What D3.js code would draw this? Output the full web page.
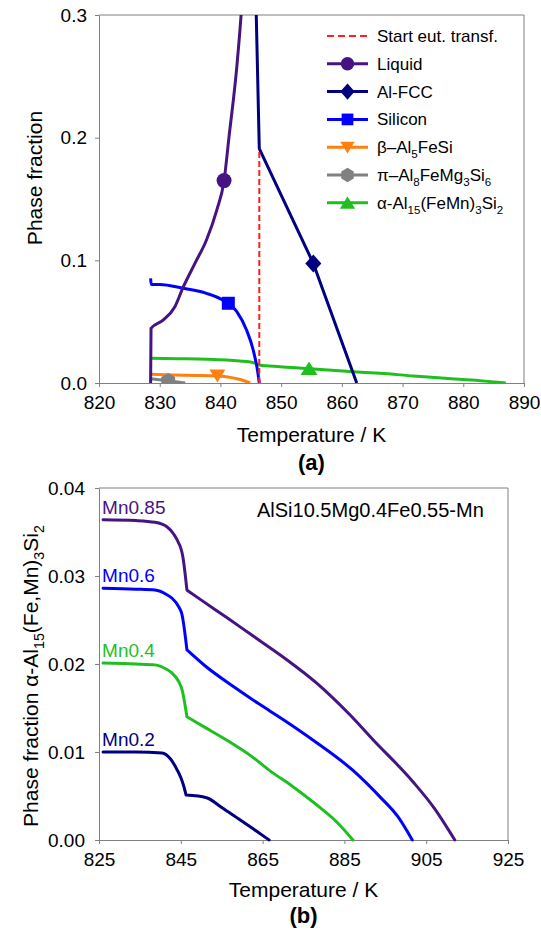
<!DOCTYPE html>
<html>
<head>
<meta charset="utf-8">
<script src="https://cdn.jsdelivr.net/npm/d3@7"></script>
<style>
body { margin: 0; background: #fff; }
svg { font-family: "Liberation Sans", Arial, sans-serif; }
</style>
</head>
<body>
<script>
// ---- data, panel (a): phase fractions vs temperature ----
var tempTicksA = [820, 830, 840, 850, 860, 870, 880, 890];
var fracTicksA = [0, 0.1, 0.2, 0.3];

var liquid = [[828.5, 0], [828.57, 0.0446], [830.6, 0.0514], [832.5, 0.0622], [833.9, 0.0785],
  [835.8, 0.0975], [837.7, 0.1166], [839.4, 0.141], [840.6, 0.165], [841.4, 0.2],
  [842.7, 0.258], [843.4, 0.3], [843.6, 0.315]];
var alFcc = [[845.85, 0.31], [845.9, 0.3], [846.4, 0.191], [855.3, 0.0975], [862.45, 0]];
var silicon = [[828.5, 0.0853], [828.6, 0.0803], [830, 0.0803], [833.9, 0.0772], [837.7, 0.0731],
  [840.5, 0.0672], [842.7, 0.0582], [844.3, 0.0432], [845.4, 0.0269], [846.1, 0.0106], [846.4, 0]];
var betaAl5FeSi = [[828.5, 0.0071], [832.2, 0.0066], [836, 0.0062], [839.4, 0.0057], [841.6, 0.0046],
  [842.7, 0.0034], [843.9, 0.0018], [844.9, 0]];
var piPhase = [[828.5, 0.0035], [831.4, 0.0018], [834.2, 0]];
var alphaPhase = [[828.5, 0.0201], [833, 0.0198], [837.7, 0.0194], [843.2, 0.0179], [845.4, 0.0166],
  [846.4, 0.0147], [849.8, 0.0133], [854.2, 0.0119], [861.9, 0.0092], [866.3, 0.0079],
  [871.8, 0.0057], [877, 0.0038], [882.8, 0.0019], [887, 0]];

// one marker per curve
var markerPoints = [[840.6, 0.165], [855.3, 0.0975], [841.3, 0.065], [839.5, 0.0061], [831.4, 0.0017], [854.6, 0.0118]];
var eutecticT = 846.4, eutecticTop = 0.191;

var phaseNames = [
  [["Liquid"]],
  [["Al-FCC"]],
  [["Silicon"]],
  [["β–Al"], ["5", 1], ["FeSi"]],
  [["π–Al"], ["8", 1], ["FeMg"], ["3", 1], ["Si"], ["6", 1]],
  [["α-Al"], ["15", 1], ["(FeMn)"], ["3", 1], ["Si"], ["2", 1]]
];

// ---- data, panel (b): alpha phase for several Mn levels ----
var tempTicksB = [825, 845, 865, 885, 905, 925];
var fracTicksB = [0, 0.01, 0.02, 0.03, 0.04];
var mnLabels = ["Mn0.85", "Mn0.6", "Mn0.4", "Mn0.2"];
var kinkT = [846.5, 846.5, 846.5, 846.3];

var mn085 = [[826, 0.0364], [834, 0.0363], [838.7, 0.0361], [841.6, 0.0356], [843.2, 0.0348],
  [844.1, 0.0341], [845.5, 0.0322], [846.5, 0.0284], [850.2, 0.0272], [856.5, 0.0252],
  [862, 0.0234], [870, 0.0208], [878.3, 0.0178], [886.4, 0.0142], [892, 0.0114],
  [901.8, 0.0066], [907, 0.0036], [912, 0]];
var mn06 = [[826, 0.0286], [834, 0.0285], [838.7, 0.0284], [841.5, 0.0279], [842.8, 0.0275],
  [844.5, 0.0265], [845.3, 0.0256], [846.5, 0.0216], [850.9, 0.0198], [858.3, 0.0173],
  [864, 0.0155], [870, 0.0137], [877.8, 0.0112], [887.1, 0.0079], [893.7, 0.0049],
  [898, 0.0027], [901.6, 0]];
var mn04 = [[826, 0.0201], [834, 0.02], [838.7, 0.0199], [841.5, 0.0194], [842.8, 0.019],
  [844.5, 0.018], [845.3, 0.0171], [846.5, 0.014], [850.9, 0.0128], [856.4, 0.0113],
  [862.3, 0.0095], [867, 0.0078], [872, 0.0062], [879, 0.0037], [883, 0.0021], [887.1, 0]];
var mn02 = [[826, 0.01], [834, 0.01], [840.4, 0.0099], [842.5, 0.0092], [843.6, 0.0084],
  [845, 0.0071], [845.6, 0.0063], [846.3, 0.0051], [851.3, 0.0048], [855, 0.0037],
  [858.5, 0.0026], [862.6, 0.0013], [866.6, 0]];

// ---- styling ----
var purple = "#461482", navy = "#000080", blue = "#0000ff", orange = "#ff8010",
    grey = "#808080", green = "#1fbf1f", axisGrey = "#808080";

var width = 541, height = 930;
var svg = d3.select("body").append("svg")
  .attr("width", width)
  .attr("height", height);

// writes text with subscripts into a <text>
function richText(sel, parts, fs) {
  var shift = fs * 0.3, cur = 0;
  parts.forEach(function(p) {
    var t = sel.append("tspan").text(p[0]);
    var target = p[1] ? shift : 0;
    if (target !== cur) t.attr("dy", target - cur);
    if (p[1]) t.attr("font-size", fs * 0.68);
    cur = target;
  });
}

// marker shapes
function markerPath(kind) {
  var p = d3.path();
  if (kind === "circle") { p.arc(0, 0, 7.5, 0, 2 * Math.PI); }
  else if (kind === "diamond") { p.moveTo(0, -9); p.lineTo(8, 0); p.lineTo(0, 9); p.lineTo(-8, 0); }
  else if (kind === "square") { p.rect(-6.5, -6.5, 13, 13); }
  else if (kind === "tridown") { p.moveTo(-8, -6); p.lineTo(8, -6); p.lineTo(0, 7); }
  else if (kind === "hexagon") {
    for (var i = 0; i < 6; i++) {
      var a = Math.PI / 6 + i * Math.PI / 3;
      if (i === 0) p.moveTo(8 * Math.cos(a), 8 * Math.sin(a)); else p.lineTo(8 * Math.cos(a), 8 * Math.sin(a));
    }
  }
  else if (kind === "triup") { p.moveTo(-8.5, 6.5); p.lineTo(8.5, 6.5); p.lineTo(0, -7); }
  p.closePath();
  return p.toString();
}

function styleAxis(g) {
  g.selectAll("path, line").attr("stroke", axisGrey);
  g.selectAll("text").attr("fill", "#000").style("font-size", "19px")
    .style("font-family", "'Liberation Sans', Arial, sans-serif");
}

// ================= panel (a) =================
var xA = d3.scaleLinear().domain([820, 890]).range([99, 524]);
var yA = d3.scaleLinear().domain([0, 0.3]).range([383, 15]);

svg.append("clipPath").attr("id", "clipA")
  .append("rect").attr("x", 99).attr("y", 15).attr("width", 425).attr("height", 368);

// frame top/right
svg.append("path")
  .attr("d", "M" + xA(820) + "," + yA(0.3) + "H" + xA(890) + "V" + yA(0))
  .attr("fill", "none").attr("stroke", axisGrey);

svg.append("g").attr("transform", "translate(0," + yA(0) + ")")
  .call(d3.axisBottom(xA).tickValues(tempTicksA).tickSize(4).tickPadding(9).tickSizeOuter(0))
  .call(styleAxis);
svg.append("g").attr("transform", "translate(" + xA(820) + ",0)")
  .call(d3.axisLeft(yA).tickValues(fracTicksA).tickFormat(d3.format(".1f")).tickSize(4).tickPadding(8).tickSizeOuter(0))
  .call(styleAxis);

var lineA = d3.line().x(function(d) { return xA(d[0]); }).y(function(d) { return yA(d[1]); })
  .curve(d3.curveMonotoneX);
var lineLin = d3.line().x(function(d) { return xA(d[0]); }).y(function(d) { return yA(d[1]); });

var plotA = svg.append("g").attr("clip-path", "url(#clipA)");

var seriesA = [
  { data: liquid, color: purple, shape: "circle", gen: lineA },
  { data: alFcc, color: navy, shape: "diamond", gen: lineLin },
  { data: silicon, color: blue, shape: "square", gen: lineA },
  { data: betaAl5FeSi, color: orange, shape: "tridown", gen: lineA },
  { data: piPhase, color: grey, shape: "hexagon", gen: lineA },
  { data: alphaPhase, color: green, shape: "triup", gen: lineA }
];

// draw in an order so the thin bottom ones are on top
[5, 3, 4, 2, 0, 1].forEach(function(i) {
  var s = seriesA[i];
  plotA.append("path")
    .attr("d", s.gen(s.data))
    .attr("fill", "none")
    .attr("stroke", s.color)
    .attr("stroke-width", 3)
    .attr("stroke-linejoin", "round");
});

// red dashed start of eutectic
plotA.append("line")
  .attr("x1", xA(eutecticT)).attr("x2", xA(eutecticT))
  .attr("y1", yA(0)).attr("y2", yA(eutecticTop))
  .attr("stroke", "#ff2020").attr("stroke-width", 2).attr("stroke-dasharray", "6,3");

seriesA.forEach(function(s, i) {
  plotA.append("path")
    .attr("d", markerPath(s.shape))
    .attr("transform", "translate(" + xA(markerPoints[i][0]) + "," + yA(markerPoints[i][1]) + ")")
    .attr("fill", s.color);
});

// legend
var legend = svg.append("g");
var legY0 = 36, legStep = 27.8;
legend.append("line")
  .attr("x1", 327).attr("x2", 368).attr("y1", legY0).attr("y2", legY0)
  .attr("stroke", "#ff2020").attr("stroke-width", 2).attr("stroke-dasharray", "7,4");
legend.append("text").attr("x", 377).attr("y", legY0 + 6).style("font-size", "17px")
  .text("Start eut. transf.");
seriesA.forEach(function(s, i) {
  var y = legY0 + (i + 1) * legStep;
  legend.append("line").attr("x1", 327).attr("x2", 368).attr("y1", y).attr("y2", y)
    .attr("stroke", s.color).attr("stroke-width", 3);
  legend.append("path").attr("d", markerPath(s.shape))
    .attr("transform", "translate(347.5," + y + ") scale(0.9)")
    .attr("fill", s.color);
  var t = legend.append("text").attr("x", 377).attr("y", y + 6).style("font-size", "17px");
  richText(t, phaseNames[i], 17);
});

// axis titles (a)
svg.append("text").attr("x", 311.5).attr("y", 442).attr("text-anchor", "middle")
  .style("font-size", "21px").text("Temperature / K");
svg.append("text").attr("x", 311.5).attr("y", 470).attr("text-anchor", "middle")
  .style("font-size", "22px").style("font-weight", "bold").text("(a)");
svg.append("text").attr("transform", "translate(42,178) rotate(-90)").attr("text-anchor", "middle")
  .style("font-size", "21px").text("Phase fraction");

// ================= panel (b) =================
var xB = d3.scaleLinear().domain([825, 925]).range([99, 508]);
var yB = d3.scaleLinear().domain([0, 0.04]).range([840, 488]);

svg.append("path")
  .attr("d", "M" + xB(825) + "," + yB(0.04) + "H" + xB(925) + "V" + yB(0))
  .attr("fill", "none").attr("stroke", axisGrey);

svg.append("g").attr("transform", "translate(0," + yB(0) + ")")
  .call(d3.axisBottom(xB).tickValues(tempTicksB).tickSize(4).tickPadding(9).tickSizeOuter(0))
  .call(styleAxis);
svg.append("g").attr("transform", "translate(" + xB(825) + ",0)")
  .call(d3.axisLeft(yB).tickValues(fracTicksB).tickFormat(d3.format(".2f")).tickSize(4).tickPadding(10).tickSizeOuter(0))
  .call(styleAxis);

var lineB = d3.line().x(function(d) { return xB(d[0]); }).y(function(d) { return yB(d[1]); })
  .curve(d3.curveMonotoneX);

var seriesB = [mn085, mn06, mn04, mn02];
var colorsB = [purple, blue, green, navy];

seriesB.forEach(function(s, i) {
  // smooth each side of the eutectic kink separately so the corner stays sharp
  var before = s.filter(function(d) { return d[0] <= kinkT[i]; });
  var after = s.filter(function(d) { return d[0] >= kinkT[i]; });
  svg.append("path")
    .attr("d", lineB(before) + lineB(after).replace(/^M/, "L"))
    .attr("fill", "none")
    .attr("stroke", colorsB[i])
    .attr("stroke-width", 3)
    .attr("stroke-linecap", "round")
    .attr("stroke-linejoin", "round");
  svg.append("text")
    .attr("x", xB(s[0][0]) - 1)
    .attr("y", yB(s[0][1]) - 6)
    .attr("fill", colorsB[i])
    .style("font-size", "19px")
    .text(mnLabels[i]);
});

svg.append("text").attr("x", 257).attr("y", 517).style("font-size", "20px")
  .text("AlSi10.5Mg0.4Fe0.55-Mn");

svg.append("text").attr("x", 303.5).attr("y", 897).attr("text-anchor", "middle")
  .style("font-size", "21px").text("Temperature / K");
svg.append("text").attr("x", 303.5).attr("y", 923).attr("text-anchor", "middle")
  .style("font-size", "22px").style("font-weight", "bold").text("(b)");
var yTitleB = svg.append("text").attr("transform", "translate(38,676) rotate(-90)")
  .attr("text-anchor", "middle").style("font-size", "21px");
richText(yTitleB, [["Phase fraction α-Al"], ["15", 1], ["(Fe,Mn)"], ["3", 1], ["Si"], ["2", 1]], 21);
</script>
</body>
</html>
